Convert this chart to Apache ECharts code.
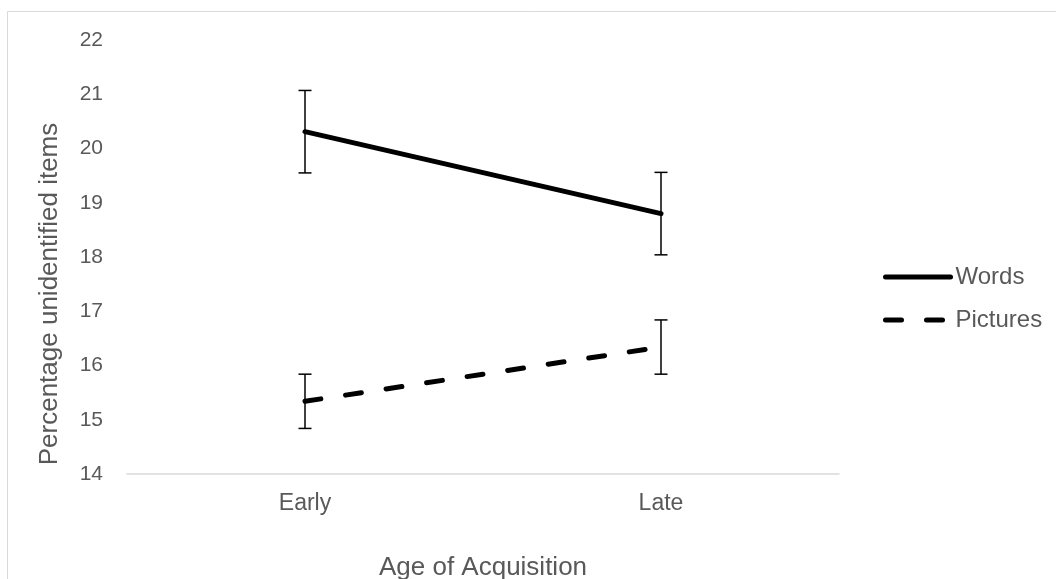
<!DOCTYPE html>
<html>
<head>
<meta charset="utf-8">
<script src="https://cdn.jsdelivr.net/npm/echarts@6/dist/echarts.min.js"></script>
<style>html,body{margin:0;padding:0;background:#fff;}#c{width:1056px;height:579px;}</style>
</head>
<body>
<div id="c"></div>
<script>
const categories = ['Early', 'Late'];
const wordsMean = [20.31, 18.80];
const wordsErr = [0.76, 0.76];
const picturesMean = [15.34, 16.34];
const picturesErr = [0.50, 0.50];
const yTicks = [14, 15, 16, 17, 18, 19, 20, 21, 22];

const chart = echarts.init(document.getElementById('c'));
const font = 'Liberation Sans, Arial, sans-serif';
const textColor = '#595959';

function errData(mean, err) {
  return mean.map((m, i) => [i, m, m - err[i], m + err[i]]);
}
function errRender(params, api) {
  const i = api.value(0);
  const lo = api.coord([i, api.value(2)]);
  const hi = api.coord([i, api.value(3)]);
  const w = 6.5;
  const style = { stroke: '#000', lineWidth: 1.5 };
  return {
    type: 'group',
    children: [
      { type: 'line', shape: { x1: lo[0], y1: lo[1], x2: hi[0], y2: hi[1] }, style },
      { type: 'line', shape: { x1: lo[0] - w, y1: lo[1], x2: lo[0] + w, y2: lo[1] }, style },
      { type: 'line', shape: { x1: hi[0] - w, y1: hi[1], x2: hi[0] + w, y2: hi[1] }, style }
    ]
  };
}

chart.setOption({
  animation: false,
  backgroundColor: '#fff',
  graphic: [
    { type: 'rect', shape: { x: 7.5, y: 11.5, width: 1200, height: 700 }, style: { fill: 'none', stroke: '#d9d9d9', lineWidth: 1 }, silent: true },
    { type: 'text', x: 50, y: 294, rotation: Math.PI / 2, style: { text: 'Percentage unidentified items', font: '26px ' + font, fill: textColor, align: 'center', verticalAlign: 'middle' } }
  ],
  grid: { left: 127, right: 217, top: 40, bottom: 105, outerBoundsMode: 'none', containLabel: false },
  legend: {
    orient: 'vertical',
    left: 878,
    top: 260,
    itemWidth: 65,
    itemHeight: 12,
    itemGap: 19,
    itemStyle: { opacity: 0 },
    lineStyle: { width: 5, cap: 'round' },
    textStyle: { fontFamily: font, fontSize: 24, color: textColor },
    data: ['Words', 'Pictures']
  },
  xAxis: {
    type: 'category',
    data: categories,
    boundaryGap: true,
    axisLine: { lineStyle: { color: '#d9d9d9', width: 1.5 } },
    axisTick: { show: false },
    axisLabel: { fontFamily: font, fontSize: 23, color: textColor, margin: 18 },
    name: 'Age of Acquisition',
    nameLocation: 'middle',
    nameGap: 81,
    nameTextStyle: { fontFamily: font, fontSize: 26, color: textColor }
  },
  yAxis: {
    type: 'value',
    min: yTicks[0],
    max: yTicks[yTicks.length - 1],
    interval: 1,
    axisLine: { show: false },
    axisTick: { show: false },
    splitLine: { show: false },
    axisLabel: { fontFamily: font, fontSize: 21, color: textColor, margin: 24 }
  },
  series: [
    {
      name: 'Words', type: 'line', data: wordsMean, symbol: 'none',
      lineStyle: { color: '#000', width: 5, cap: 'round' }, itemStyle: { color: '#000' }, z: 3
    },
    {
      name: 'Pictures', type: 'line', data: picturesMean, symbol: 'none',
      lineStyle: { color: '#000', width: 5, type: [16, 25], cap: 'round' }, itemStyle: { color: '#000' }, z: 3
    },
    { type: 'custom', renderItem: errRender, data: errData(wordsMean, wordsErr), z: 2, silent: true },
    { type: 'custom', renderItem: errRender, data: errData(picturesMean, picturesErr), z: 2, silent: true }
  ]
});
</script>
</body>
</html>
